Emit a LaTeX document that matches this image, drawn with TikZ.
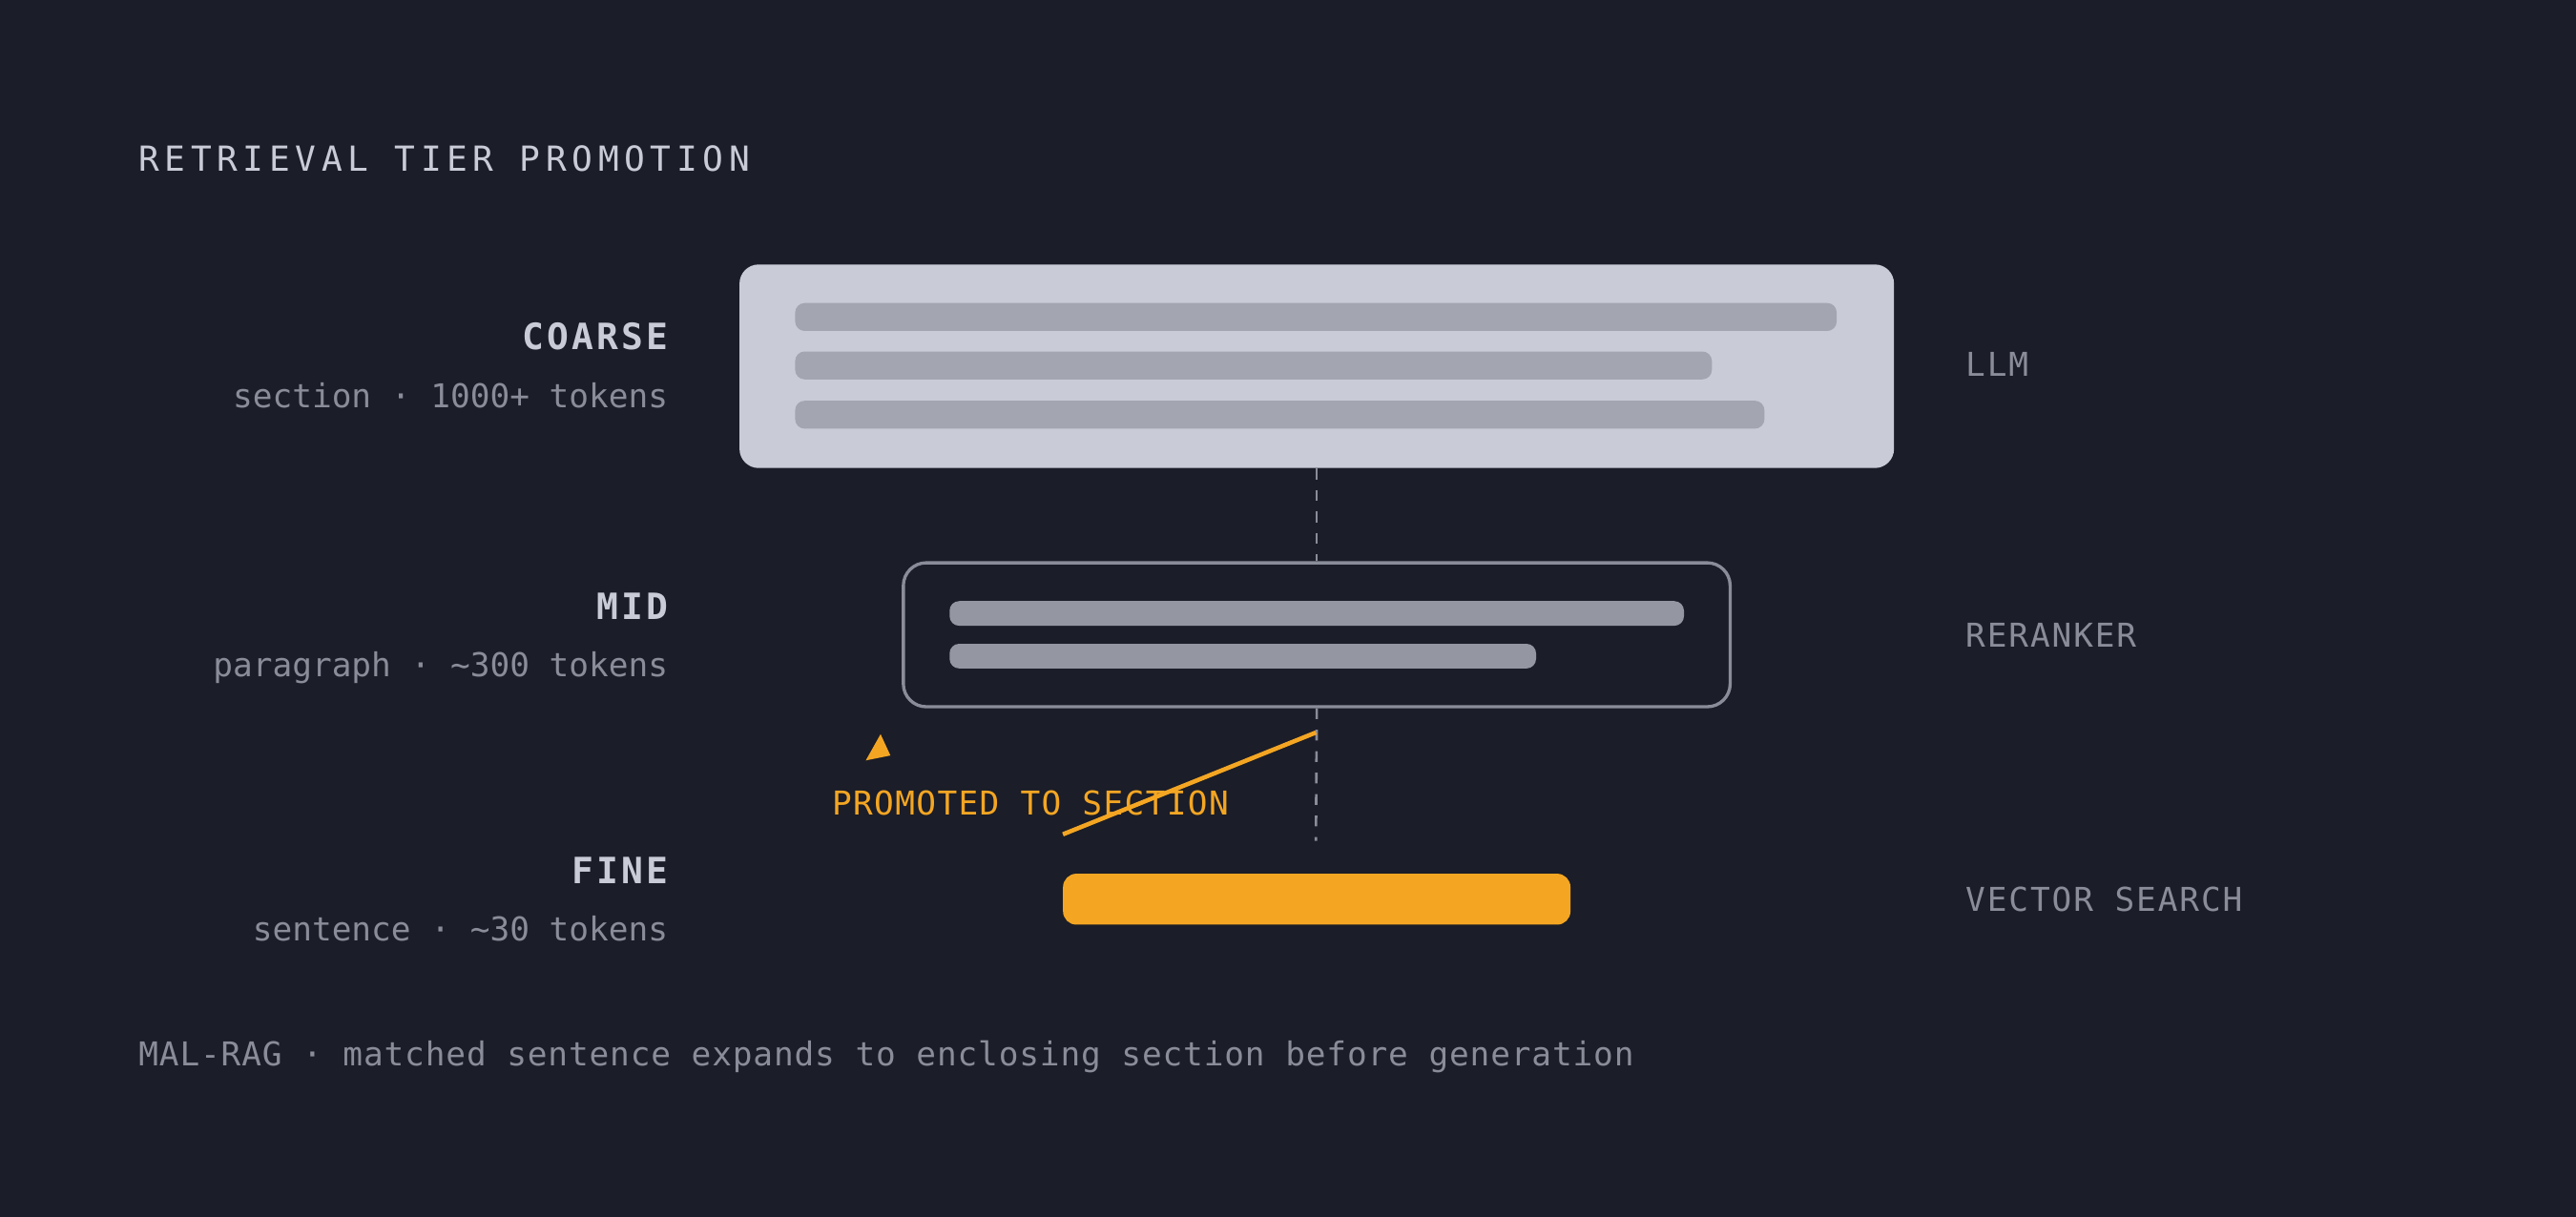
\documentclass[tikz,border=0pt]{standalone}
\usepackage{fontspec}
\setmainfont{DejaVu Sans Mono}
\newfontfamily\titlefont[LetterSpace=15.5]{DejaVu Sans Mono}
\newfontfamily\tierfont[LetterSpace=8]{DejaVu Sans Mono}
\newfontfamily\rolefont[LetterSpace=5.5]{DejaVu Sans Mono}
\newfontfamily\notefont[LetterSpace=2.5]{DejaVu Sans Mono}
\newfontfamily\tagfont[LetterSpace=4]{DejaVu Sans Mono}
\definecolor{bgdark}{HTML}{1B1D28}
\definecolor{ink}{HTML}{C9CCD6}
\definecolor{panel}{HTML}{C9CCD6}
\definecolor{barlight}{HTML}{A3A6B0}
\definecolor{bargray}{HTML}{9497A2}
\definecolor{edge}{HTML}{8A8D99}
\definecolor{amber}{HTML}{F4A623}
\tikzset{
  tiername/.style={anchor=base east, inner sep=0, text=ink, font=\tierfont\bfseries\fontsize{10.8}{13}\selectfont},
  tiersize/.style={anchor=base east, inner sep=0, text=edge, font=\fontsize{9.8}{12}\selectfont},
  role/.style={anchor=base west, inner sep=0, text=edge, font=\rolefont\fontsize{9.8}{12}\selectfont},
  link/.style={edge, line width=0.75pt, dash pattern=on 3.2pt off 3.2pt}
}
\begin{document}
\begin{tikzpicture}[x=0.01722cm,y=-0.01722cm,
  coarsebox/.style={fill=panel, rounded corners=0.2cm, minimum width=12.106cm, minimum height=2.135cm, inner sep=0},
  midbox/.style={draw=edge, line width=0.95pt, rounded corners=0.24cm, minimum width=8.67cm, minimum height=1.51cm, inner sep=0},
  finebar/.style={fill=amber, rounded corners=0.14cm, minimum width=5.321cm, minimum height=0.534cm, inner sep=0}]
\useasboundingbox (0,0) rectangle (1568,740.5);
\fill[bgdark] (-5,-5) rectangle (1573,746);

% Title
\node[anchor=base west, inner sep=0, text=ink, font=\titlefont\fontsize{10.3}{12}\selectfont] (title) at (84,104.5) {RETRIEVAL TIER PROMOTION};

% Coarse tier: section
\node[coarsebox] (coarse) at (801.5,223) {};
\foreach \yy/\xe in {193/1118, 222.5/1042, 252.5/1074} {
  \fill[barlight, rounded corners=0.1cm] (484,\yy-8.5) rectangle (\xe,\yy+8.5);
}
\node[tiername] (coarsename) at (407,213) {COARSE};
\node[tiersize] (coarsesize) at (407,248) {section · 1000+ tokens};
\node[role] (llm) at (1196,229) {LLM};

% Mid tier: paragraph
\node[midbox] (mid) at (801.5,386.5) {};
\foreach \yy/\xe in {373.5/1025, 399.5/935} {
  \fill[bargray, rounded corners=0.1cm] (578,\yy-7.5) rectangle (\xe,\yy+7.5);
}
\node[tiername] (midname) at (407,377) {MID};
\node[tiersize] (midsize) at (407,412) {paragraph · \textasciitilde300 tokens};
\node[role] (reranker) at (1196,394) {RERANKER};

% Fine tier: sentence
\node[finebar] (fine) at (801.5,547.5) {};
\node[tiername] (finename) at (407,538) {FINE};
\node[tiersize] (finesize) at (407,573) {sentence · \textasciitilde30 tokens};
\node[role] (vector) at (1196,555) {VECTOR SEARCH};

% Dashed links between tiers
\coordinate (dashend) at (801,512);
\draw[link] (coarse.south) -- (mid.north);
\draw[link] (mid.south) -- (dashend);

% Promotion marker
\coordinate (promoA) at (647,508);
\coordinate (promoB) at (801,446);
\draw[amber, line width=1.3pt] (promoA) -- (promoB);
\fill[amber] (536,447) -- (542,460) -- (527,463) -- cycle;
\node[anchor=base west, inner sep=0, text=amber, font=\tagfont\fontsize{9.8}{12}\selectfont] (promo) at (506,496.5) {PROMOTED TO SECTION};

% Footer
\node[anchor=base west, inner sep=0, text=edge, font=\notefont\fontsize{9.8}{12}\selectfont] (footer) at (84,649) {MAL-RAG · matched sentence expands to enclosing section before generation};
\end{tikzpicture}
\end{document}
